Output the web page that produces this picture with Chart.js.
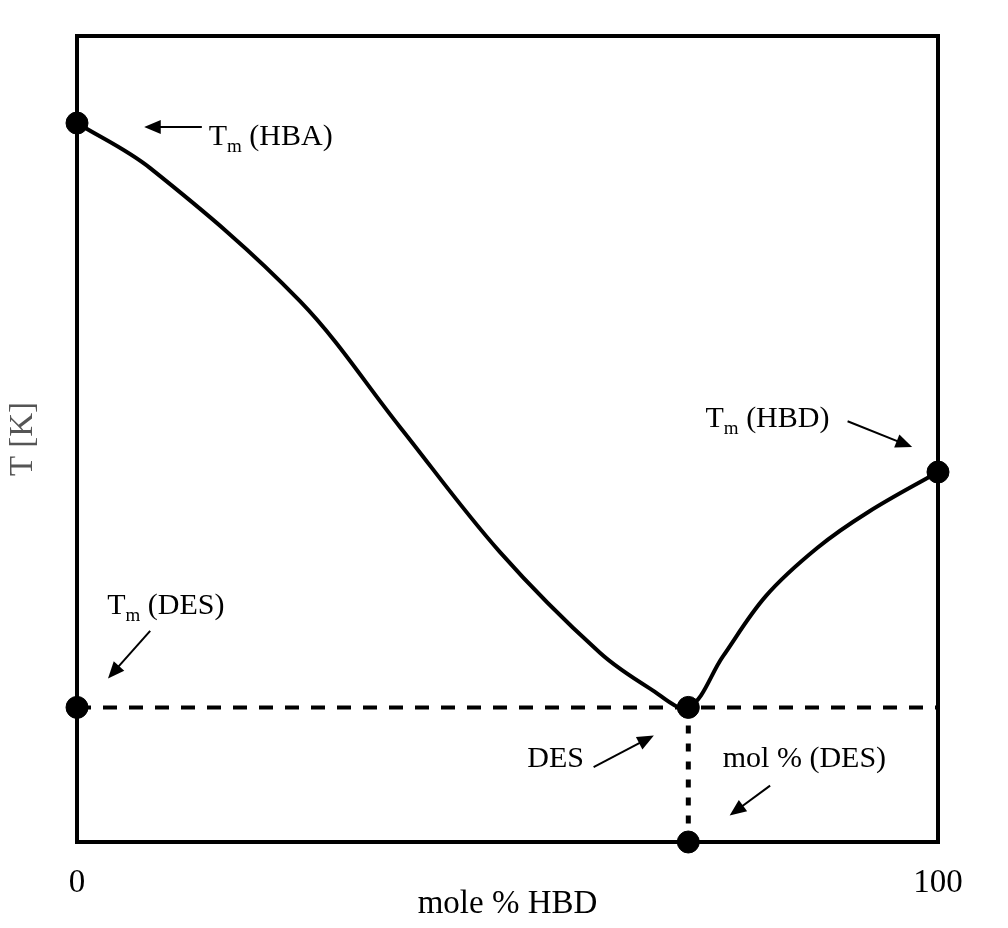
<!DOCTYPE html>
<html>
<head>
<meta charset="utf-8">
<script src="https://cdn.jsdelivr.net/npm/chart.js@4"></script>
<style>
  html, body { margin: 0; padding: 0; background: #fff; }
  #wrap { width: 1008px; height: 928px; }
</style>
</head>
<body>
<div id="wrap"><canvas id="phase"></canvas></div>
<script>
// --- Data (x: mole % HBD, y: relative temperature) ---
const liquidusX = [0, 8.5, 25.9, 37.5, 49.1, 60.7, 66.6, 71, 75, 80, 86, 92, 100];
const liquidusY = [89.2, 83.6, 67.1, 51.5, 36.0, 23.5, 19.0, 16.7, 23.0, 30.5, 36.5, 41.0, 45.9];
const eutecticT = 16.7;
const eutecticX = 71;
const markerX = [0, 100, 0, 71, 71];
const markerY = [89.2, 45.9, 16.7, 16.7, 0];
const xTickValues = [0, 100];

// annotation text + arrows in data units
const notes = [
  { sub: true, text: " (HBA)", at: [15.3, 86.5], arrow: [[14.5, 88.7], [7.8, 88.7]] },
  { sub: true, text: " (HBD)", at: [73, 51.5], arrow: [[89.5, 52.2], [97, 49]] },
  { sub: true, text: " (DES)", at: [3.5, 28.3], arrow: [[8.5, 26.2], [3.6, 20.3]] },
  { sub: false, text: "DES", at: [52.3, 9.3], arrow: [[60, 9.3], [67, 13.2]] },
  { sub: false, text: "mol % (DES)", at: [75, 9.3], arrow: [[80.5, 7.0], [75.8, 3.3]] }
];

const serif = "'Liberation Serif', 'DejaVu Serif', serif";

// --- Annotation plugin ---
const annotatePlugin = {
  id: "annotate",
  afterDraw(c) {
    const { ctx, scales: { x, y }, chartArea: a } = c;
    ctx.save();
    ctx.strokeStyle = "#000";
    ctx.lineWidth = 4;
    ctx.strokeRect(a.left, a.top, a.right - a.left, a.bottom - a.top);
    ctx.fillStyle = "#000";
    ctx.textBaseline = "alphabetic";
    notes.forEach((n) => {
      let px = x.getPixelForValue(n.at[0]);
      const py = y.getPixelForValue(n.at[1]);
      if (n.sub) {
        ctx.font = "30px " + serif;
        ctx.fillText("T", px, py);
        px += ctx.measureText("T").width;
        ctx.font = "19px " + serif;
        ctx.fillText("m", px, py + 7);
        px += ctx.measureText("m").width;
      }
      ctx.font = "30px " + serif;
      ctx.fillText(n.text, px, py);
      const x1 = x.getPixelForValue(n.arrow[0][0]), y1 = y.getPixelForValue(n.arrow[0][1]);
      const x2 = x.getPixelForValue(n.arrow[1][0]), y2 = y.getPixelForValue(n.arrow[1][1]);
      const ang = Math.atan2(y2 - y1, x2 - x1);
      ctx.lineWidth = 2;
      ctx.beginPath();
      ctx.moveTo(x1, y1);
      ctx.lineTo(x2 - 10 * Math.cos(ang), y2 - 10 * Math.sin(ang));
      ctx.stroke();
      ctx.beginPath();
      ctx.moveTo(x2, y2);
      ctx.lineTo(x2 - 18 * Math.cos(ang - 0.4), y2 - 18 * Math.sin(ang - 0.4));
      ctx.lineTo(x2 - 18 * Math.cos(ang + 0.4), y2 - 18 * Math.sin(ang + 0.4));
      ctx.closePath();
      ctx.fill();
    });
    ctx.restore();
  }
};

const pts = (xs, ys) => xs.map((v, i) => ({ x: v, y: ys[i] }));

new Chart(document.getElementById("phase"), {
  type: "scatter",
  data: {
    datasets: [
      {
        data: pts(liquidusX, liquidusY),
        showLine: true,
        borderColor: "#000",
        borderWidth: 4,
        pointRadius: 0,
        tension: 0.35,
        clip: false
      },
      {
        data: [{ x: 0, y: eutecticT }, { x: 100, y: eutecticT }],
        showLine: true,
        borderColor: "#000",
        borderWidth: 4,
        borderDash: [14, 12],
        pointRadius: 0,
        clip: false
      },
      {
        data: [{ x: eutecticX, y: eutecticT }, { x: eutecticX, y: 0 }],
        showLine: true,
        borderColor: "#000",
        borderWidth: 5,
        borderDash: [8, 10],
        pointRadius: 0,
        clip: false
      },
      {
        data: pts(markerX, markerY),
        pointRadius: 11,
        pointBackgroundColor: "#000",
        pointBorderColor: "#000",
        clip: false
      }
    ]
  },
  plugins: [annotatePlugin],
  options: {
    animation: false,
    responsive: true,
    maintainAspectRatio: false,
    layout: { padding: { top: 36, right: 70, left: 0, bottom: 0 } },
    plugins: { legend: { display: false }, tooltip: { enabled: false } },
    scales: {
      x: {
        type: "linear",
        min: 0,
        max: 100,
        afterBuildTicks: (s) => { s.ticks = xTickValues.map((v) => ({ value: v })); },
        afterFit: (s) => { s.height = 86; },
        grid: { display: false },
        border: { display: false },
        ticks: { color: "#000", font: { family: serif, size: 33 }, padding: 14, maxRotation: 0 },
        title: {
          display: true,
          text: "mole % HBD",
          color: "#000",
          font: { family: serif, size: 33 },
          padding: { top: -62 }
        }
      },
      y: {
        type: "linear",
        min: 0,
        max: 100,
        afterFit: (s) => { s.width = 77; },
        grid: { display: false },
        border: { display: false },
        ticks: { display: false },
        title: {
          display: true,
          text: "T [K]",
          color: "#555",
          font: { family: serif, size: 33 },
          padding: { bottom: 12 }
        }
      }
    }
  }
});
</script>
</body>
</html>
